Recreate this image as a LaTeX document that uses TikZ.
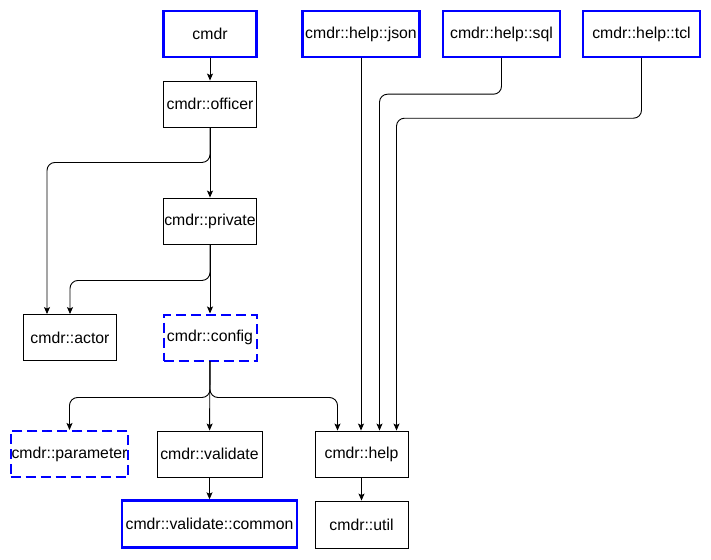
\documentclass[tikz,border=0pt]{standalone}
\usepackage{fontspec}
\setmainfont{Liberation Sans}
\usepackage{pgf,tikz}
\usetikzlibrary{arrows}
\usetikzlibrary{arrows.meta}
\definecolor{qqqqff}{rgb}{0.,0.,1.}
\begin{document}
\begin{tikzpicture}[line cap=round,line join=round,>={Stealth[length=7pt,width=6pt,inset=1.5pt]},x=1pt,y=-1pt,
  pkg/.style={draw=black,line width=0.9pt,line join=miter,minimum width=93pt,minimum height=46pt,inner sep=1pt,font=\fontsize{15.8}{18}\selectfont},
  pkgmain/.style={pkg,draw=qqqqff,line width=2.4pt},
  pkgpriv/.style={pkg,draw=qqqqff,line width=2pt,line cap=butt,dash pattern=on 10pt off 5pt},
  dep/.style={->,line width=0.9pt,rounded corners=8pt}]
\useasboundingbox (0,0) rectangle (711,559);
% top row
\node[pkgmain] (cmdr) at (210,34) {cmdr};
\node[pkgmain,minimum width=117pt] (json) at (361,34) {cmdr::help::json};
\node[pkgmain,minimum width=117pt] (sql) at (501.5,34) {cmdr::help::sql};
\node[pkgmain,minimum width=117pt] (tcl) at (641.5,34) {cmdr::help::tcl};
% middle
\node[pkg] (officer) at (210,104) {cmdr::officer};
\node[pkg] (private) at (210,221) {cmdr::private};
\node[pkg] (actor) at (70,337.5) {cmdr::actor};
\node[pkgpriv] (config) at (210,337.5) {cmdr::config};
% bottom
\node[pkgpriv,minimum width=117pt] (parameter) at (69.5,454) {cmdr::parameter};
\node[pkg,minimum width=105pt] (validate) at (209.5,454) {cmdr::validate};
\node[pkg] (help) at (361.5,454) {cmdr::help};
\node[pkgmain,minimum width=175pt,minimum height=47pt] (common) at (209.5,524) {cmdr::validate::common};
\node[pkg,minimum height=47pt] (util) at (361.5,524.5) {cmdr::util};
% dependencies
\draw[dep] (cmdr) -- (officer);
\draw[dep] (officer) -- (private);
\draw[dep] (officer.south) -- ++(0,35) -| ([xshift=-23pt]actor.north);
\draw[dep] (private.south) -- ++(0,36) -| (actor.north);
\draw[dep] (private) -- (config);
\draw[dep] (config.south) -- ++(0,36) -| (parameter.north);
\draw[dep] (config) -- (validate);
\draw[dep] (config.south) -- ++(0,36) -| ([xshift=-24pt]help.north);
\draw[dep] (json.south) -- (json.south |- help.north);
\draw[dep] (sql.south) -- ++(0,36) -| ([xshift=18pt]help.north);
\draw[dep] (tcl.south) -- ++(0,60) -| ([xshift=35pt]help.north);
\draw[dep] (validate) -- (common);
\draw[dep] (help) -- (util);
\end{tikzpicture}
\end{document}
